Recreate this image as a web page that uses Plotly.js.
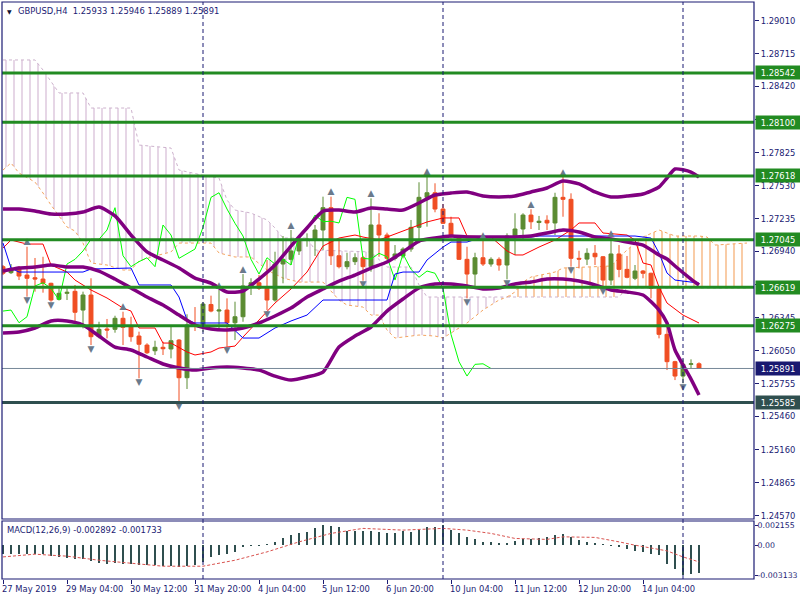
<!DOCTYPE html>
<html><head><meta charset="utf-8">
<script src="https://cdn.plot.ly/plotly-3.0.1.min.js"></script>
<style>html,body{margin:0;padding:0;background:#fff;}#chart{width:800px;height:600px;}</style>
</head><body><div id="chart"></div>
<script>
// ---- price data (H4 bars, 27 May 2019 20:00 -> 17 Jun 2019 08:00) ----
const openP = [1.26804,1.26750,1.26798,1.26729,1.26705,1.26693,1.26655,1.26511,1.26565,1.26583,
1.26415,1.26550,1.26176,1.26245,1.26242,1.26341,1.26266,1.26182,1.26101,1.26050,
1.26081,1.26066,1.26146,1.25808,1.26281,1.26272,1.26465,1.26406,1.26415,1.26301,
1.26355,1.26631,1.26660,1.26610,1.26505,1.26828,1.26870,1.26945,1.27040,1.27050,
1.27133,1.27333,1.26902,1.26804,1.26849,1.26884,1.26804,1.27178,1.27088,1.26879,
1.26900,1.26962,1.27157,1.27426,1.27467,1.27321,1.27193,1.27079,1.26870,1.26738,
1.26884,1.26828,1.26870,1.26819,1.27079,1.27142,1.27267,1.27200,1.27220,1.27196,
1.27426,1.27408,1.26879,1.26872,1.26924,1.26893,1.26684,1.26918,1.26780,1.26700,
1.26765,1.26745,1.26610,1.26197,1.25952,1.25823,1.25928,1.25933];
const highP = [1.26819,1.26828,1.26810,1.26983,1.26882,1.26893,1.26660,1.26610,1.26610,1.26640,
1.26580,1.26700,1.26310,1.26335,1.26364,1.26400,1.26355,1.26221,1.26117,1.26140,
1.26131,1.26266,1.26155,1.26377,1.26442,1.26487,1.26544,1.26595,1.26520,1.26490,
1.26738,1.26700,1.26729,1.26864,1.26938,1.27079,1.27133,1.27079,1.27103,1.27178,
1.27432,1.27432,1.27043,1.26929,1.26924,1.26900,1.27417,1.27283,1.27109,1.26998,
1.26978,1.27223,1.27561,1.27611,1.27552,1.27366,1.27252,1.27088,1.26983,1.26929,
1.27043,1.26888,1.26888,1.27103,1.27283,1.27283,1.27319,1.27259,1.27265,1.27467,
1.27610,1.27462,1.26947,1.26969,1.26998,1.26900,1.27058,1.26998,1.26900,1.26819,
1.26774,1.26750,1.26631,1.26266,1.25960,1.25973,1.25973,1.25946];
const lowP = [1.26729,1.26738,1.26684,1.26535,1.26580,1.26571,1.26490,1.26501,1.26505,1.26310,
1.26251,1.26101,1.26161,1.26161,1.26212,1.26101,1.26131,1.25803,1.26021,1.26012,
1.26012,1.25982,1.25585,1.25707,1.26227,1.26218,1.26395,1.26236,1.26086,1.26146,
1.26310,1.26550,1.26595,1.26415,1.26490,1.26655,1.26819,1.26909,1.26983,1.26900,
1.26954,1.26819,1.26789,1.26780,1.26819,1.26678,1.26759,1.26893,1.26864,1.26860,
1.26879,1.26938,1.27014,1.27163,1.27292,1.27187,1.27058,1.26864,1.26520,1.26631,
1.26810,1.26804,1.26768,1.26691,1.26909,1.27037,1.27142,1.27133,1.27133,1.27088,
1.27252,1.26804,1.26789,1.26819,1.26819,1.26619,1.26640,1.26709,1.26700,1.26684,
1.26700,1.26520,1.26161,1.25877,1.25787,1.25758,1.25892,1.25889];
const closeP = [1.26745,1.26789,1.26720,1.26700,1.26693,1.26655,1.26505,1.26565,1.26574,1.26395,
1.26550,1.26176,1.26242,1.26236,1.26341,1.26260,1.26176,1.26108,1.26032,1.26081,
1.26068,1.26140,1.25808,1.26281,1.26272,1.26469,1.26406,1.26415,1.26301,1.26355,
1.26631,1.26660,1.26610,1.26505,1.26828,1.26870,1.26945,1.27050,1.27050,1.27133,
1.27333,1.26902,1.26804,1.26849,1.26884,1.26804,1.27178,1.27088,1.26879,1.26918,
1.26962,1.27157,1.27426,1.27467,1.27321,1.27193,1.27079,1.26870,1.26738,1.26884,
1.26828,1.26870,1.26819,1.27079,1.27142,1.27267,1.27207,1.27212,1.27196,1.27426,
1.27408,1.26879,1.26872,1.26924,1.26893,1.26684,1.26918,1.26780,1.26709,1.26765,
1.26745,1.26610,1.26197,1.25952,1.25823,1.25928,1.25933,1.25891];

// ---- x axis labels ----
const tickBars = [0,8,16,24,32,40,48,56,64,72,80];
const tickLabels = ["27 May 2019","29 May 04:00","30 May 12:00","31 May 20:00","4 Jun 04:00","5 Jun 12:00",
  "6 Jun 20:00","10 Jun 04:00","11 Jun 12:00","12 Jun 20:00","14 Jun 04:00"];
const separatorBars = [25,55,85];

// ---- price axis (ticks hidden behind level labels carry empty text) ----
const priceTicks = [1.29010,1.28715,1.28420,1.28125,1.27825,1.27530,1.27235,1.26940,1.26645,1.26345,
  1.26050,1.25755,1.25460,1.25160,1.24865,1.24570];
const priceTickText = ["1.29010","1.28715","1.28420","","1.27825","1.27530","1.27235","1.26940","","1.26345",
  "1.26050","1.25755","1.25460","1.25160","1.24865","1.24570"];
const resistanceLevels = [1.28542,1.28100,1.27618,1.27045,1.26619,1.26275];
const supportLevel = 1.25585;
const lastPrice = 1.25891;

// ---- Bollinger bands ----
const bbIdx = [0,2,4,6,8,10,12,14,16,18,20,22,24,26,28,30,32,34,36,38,40,42,44,46,48,50,52,54,56,58,60,62,64,66,68,70,72,74,76,78,80,82,83,84,86,87];
const bbUpper = [1.27321,1.27321,1.27303,1.27276,1.27276,1.27294,1.27339,1.27259,1.27088,1.26936,1.26864,1.26792,1.26702,1.26657,1.26577,1.26586,1.26693,1.26819,1.26989,1.27151,1.27303,1.27312,1.27294,1.27330,1.27321,1.27312,1.27375,1.27447,1.27465,1.27474,1.27438,1.27429,1.27438,1.27474,1.27510,1.27572,1.27546,1.27474,1.27429,1.27438,1.27456,1.27519,1.27599,1.27680,1.27653,1.27608];
const bbMiddle = [1.26765,1.26792,1.26801,1.26819,1.26801,1.26801,1.26765,1.26693,1.26613,1.26532,1.26460,1.26370,1.26281,1.26245,1.26236,1.26254,1.26299,1.26362,1.26433,1.26532,1.26604,1.26675,1.26729,1.26792,1.26846,1.26936,1.27034,1.27061,1.27079,1.27070,1.27070,1.27070,1.27070,1.27079,1.27106,1.27133,1.27115,1.27070,1.27052,1.27025,1.26998,1.26909,1.26873,1.26810,1.26693,1.26640];
const bbLower = [1.26209,1.26218,1.26254,1.26317,1.26317,1.26281,1.26182,1.26083,1.26057,1.25994,1.25931,1.25895,1.25877,1.25895,1.25904,1.25895,1.25877,1.25823,1.25787,1.25814,1.25859,1.26083,1.26182,1.26263,1.26406,1.26514,1.26613,1.26649,1.26649,1.26631,1.26604,1.26613,1.26649,1.26666,1.26693,1.26693,1.26675,1.26640,1.26595,1.26577,1.26550,1.26415,1.26299,1.26057,1.25796,1.25653];

// ---- Ichimoku ----
const tenkanIdx = [0,1,3,5,6,8,9,11,13,15,16,17,19,20,21,23,24,26,27,29,30,31,32,34,36,38,40,42,44,45,47,49,51,53,55,57,58,61,63,64,65,67,69,71,72,74,75,78,79,80,81,82,83,85,87];
const tenkan = [1.26971,1.27043,1.27007,1.27007,1.26819,1.26756,1.26684,1.26595,1.26523,1.26433,1.26406,1.26254,1.26254,1.26119,1.26119,1.26039,1.26012,1.26039,1.26074,1.26092,1.26173,1.26254,1.26326,1.26478,1.26604,1.26756,1.26989,1.27061,1.27088,1.27070,1.27043,1.27097,1.27151,1.27205,1.27241,1.27241,1.27079,1.27070,1.26945,1.26909,1.26909,1.26980,1.27043,1.27133,1.27196,1.27196,1.27106,1.27088,1.27043,1.26837,1.26819,1.26622,1.26478,1.26370,1.26299];
const kijunIdx = [0,1,2,10,11,16,17,21,22,23,24,28,30,32,34,36,38,40,48,49,50,52,53,55,56,58,60,66,67,79,81,82,83,84,87];
const kijun = [1.27016,1.26792,1.26756,1.26756,1.26783,1.26792,1.26640,1.26640,1.26532,1.26326,1.26299,1.26299,1.26164,1.26164,1.26254,1.26317,1.26370,1.26505,1.26505,1.26738,1.26756,1.26756,1.26864,1.26980,1.27025,1.27025,1.27070,1.27070,1.27079,1.27079,1.27061,1.26927,1.26747,1.26684,1.26657];
const chikouShift = 26;
const spanAIdx = [0,1,2,4,5,6,8,9,10,11,13,15,16,17,19,21,22,26,27,29,31,33,35,37,40,42,43,45,46,47,48,49,52,54,55,56,58,60,62,63,64,65,66,69,70,73,76,78,80,82,84,87,88,89,93];
const spanA = [1.27671,1.27734,1.27644,1.27563,1.27465,1.27357,1.27160,1.27124,1.27016,1.26837,1.26819,1.26774,1.26774,1.26855,1.26900,1.26936,1.27016,1.27016,1.26927,1.26891,1.26891,1.26774,1.26702,1.26666,1.26666,1.26505,1.26460,1.26442,1.26370,1.26370,1.26236,1.26164,1.26191,1.26182,1.26164,1.26209,1.26299,1.26415,1.26505,1.26532,1.26577,1.26666,1.26711,1.26756,1.26792,1.26801,1.26810,1.26954,1.27070,1.27133,1.27079,1.27079,1.27070,1.26998,1.27016];
const spanBIdx = [0,4,5,6,7,10,11,16,17,21,22,26,27,28,29,31,33,34,35,38,39,46,47,48,51,52,53,63,77,78,93];
const spanB = [1.28658,1.28658,1.28568,1.28469,1.28362,1.28362,1.28227,1.28227,1.27895,1.27868,1.27671,1.27608,1.27599,1.27402,1.27312,1.27285,1.27223,1.27151,1.27061,1.27061,1.26954,1.26936,1.26864,1.26801,1.26801,1.26640,1.26532,1.26532,1.26532,1.26613,1.26613];
const cloudCross = 63;

// ---- fractals ----
const fractalUpBars = [3,15,27,30,36,41,46,53,60,66,70,76];
const fractalDownBars = [3,6,11,17,22,28,33,45,58,63,71,75,85];

// ---- MACD(12,26,9) ----
const macdHist = [-0.00085,-0.00085,-0.00092,-0.00092,-0.00092,-0.00095,-0.00113,-0.00121,-0.00131,-0.00145,
-0.00148,-0.00163,-0.00180,-0.00198,-0.00184,-0.00191,-0.00198,-0.00201,-0.00209,-0.00209,
-0.00216,-0.00219,-0.00227,-0.00219,-0.00209,-0.00174,-0.00121,-0.00103,-0.00085,-0.00068,
-0.00021,-0.00004,-0.00004,0.00011,0.00038,0.00074,0.00109,0.00127,0.00144,0.00180,
0.002155,0.00205,0.00191,0.00155,0.00155,0.00155,0.00155,0.00144,0.00134,0.00127,
0.00155,0.00144,0.00162,0.00191,0.00197,0.00215,0.00162,0.00127,0.00091,0.00064,
0.00038,0.00038,0.00021,0.00028,0.00049,0.00064,0.00064,0.00074,0.00085,0.00109,
0.00120,0.00091,0.00056,0.00038,0.00021,0.00011,-0.00004,-0.00021,-0.00042,-0.00057,
-0.00068,-0.00085,-0.00103,-0.00191,-0.00244,-0.003133,-0.00300,-0.002892];
const signalIdx = [0,4,6,8,12,16,20,25,29,33,37,41,45,50,55,58,61,64,68,70,74,77,79,83,85,87];
const signal = [-0.00121,-0.00092,-0.00103,-0.00113,-0.00156,-0.00184,-0.00219,-0.00219,-0.00156,-0.00068,0.00038,0.00127,0.00180,0.00162,0.00180,0.00162,0.00127,0.00074,0.00064,0.00091,0.00085,0.00038,0.00003,-0.00057,-0.00121,-0.001733];
const macdTicks = [0.002155, 0, -0.003133];
const macdTickText = ["0.002155","0.00","-0.003133"];

// ================= drawing =================
const navy = '#1b1b73';
const FONT = 'DejaVu Sans';
const bars = openP.map((_, i) => i);
function seg(idx, vals, pred){
  const x=[], y=[];
  idx.forEach((b,k)=>{ if(pred(b)){ x.push(b); y.push(vals[k]); } });
  return {x, y};
}
const a1 = seg(spanAIdx, spanA, b => b <= cloudCross);
const b1 = seg(spanBIdx, spanB, b => b <= cloudCross);
const a2 = seg(spanAIdx, spanA, b => b >= cloudCross);
const b2 = seg(spanBIdx, spanB, b => b >= cloudCross);
const pat = c => ({shape:'|', size:8, solidity:0.14, fgcolor:c, bgcolor:'rgba(0,0,0,0)', fgopacity:1});
const lineCfg = (c,w,d) => ({color:c, width:w, dash:d||'solid'});

const traces = [
  {type:'scatter', mode:'lines', x:a1.x, y:a1.y, xaxis:'x', yaxis:'y', line:lineCfg('#F4A460',1,'3px,3px'), hoverinfo:'skip'},
  {type:'scatter', mode:'lines', x:b1.x, y:b1.y, xaxis:'x', yaxis:'y', line:lineCfg('#CDB2CD',1,'3px,3px'),
   fill:'tonexty', fillcolor:'rgba(0,0,0,0)', fillpattern:pat('#D2B6D2'), hoverinfo:'skip'},
  {type:'scatter', mode:'lines', x:b2.x, y:b2.y, xaxis:'x', yaxis:'y', line:lineCfg('#CDB2CD',1,'3px,3px'), hoverinfo:'skip'},
  {type:'scatter', mode:'lines', x:a2.x, y:a2.y, xaxis:'x', yaxis:'y', line:lineCfg('#F4A460',1,'3px,3px'),
   fill:'tonexty', fillcolor:'rgba(0,0,0,0)', fillpattern:pat('#F4A460'), hoverinfo:'skip'},
  {type:'candlestick', x:bars, open:openP, high:highP, low:lowP, close:closeP, xaxis:'x', yaxis:'y3',
   increasing:{line:{color:'#5b8c32', width:1}, fillcolor:'#5b8c32'},
   decreasing:{line:{color:'#f04e23', width:1}, fillcolor:'#f04e23'},
   whiskerwidth:0, hoverinfo:'skip'},
  {type:'scatter', mode:'lines', x:bars.slice(0, bars.length - chikouShift), y:closeP.slice(chikouShift),
   xaxis:'x', yaxis:'y3', line:lineCfg('#00FF00',1), hoverinfo:'skip'},
  {type:'scatter', mode:'lines', x:tenkanIdx, y:tenkan, xaxis:'x', yaxis:'y3', line:lineCfg('#FF0000',1), hoverinfo:'skip'},
  {type:'scatter', mode:'lines', x:kijunIdx, y:kijun, xaxis:'x', yaxis:'y3', line:lineCfg('#0000FF',1), hoverinfo:'skip'},
  {type:'scatter', mode:'lines', x:bbIdx, y:bbUpper, xaxis:'x', yaxis:'y3', line:{color:'#800080', width:3.5, shape:'spline', smoothing:0.6}, hoverinfo:'skip'},
  {type:'scatter', mode:'lines', x:bbIdx, y:bbMiddle, xaxis:'x', yaxis:'y3', line:{color:'#800080', width:3.5, shape:'spline', smoothing:0.6}, hoverinfo:'skip'},
  {type:'scatter', mode:'lines', x:bbIdx, y:bbLower, xaxis:'x', yaxis:'y3', line:{color:'#800080', width:3.5, shape:'spline', smoothing:0.6}, hoverinfo:'skip'},
  {type:'scatter', mode:'text', x:fractalUpBars, y:fractalUpBars.map(i => highP[i]), text:fractalUpBars.map(()=>'▲'),
   textposition:'top center', textfont:{family:FONT, size:9, color:'#6a7a8c'}, xaxis:'x', yaxis:'y3', cliponaxis:false, hoverinfo:'skip'},
  {type:'scatter', mode:'text', x:fractalDownBars, y:fractalDownBars.map(i => lowP[i]), text:fractalDownBars.map(()=>'▼'),
   textposition:'bottom center', textfont:{family:FONT, size:9, color:'#6a7a8c'}, xaxis:'x', yaxis:'y3', cliponaxis:false, hoverinfo:'skip'},
  {type:'bar', x:bars, y:macdHist, xaxis:'x', yaxis:'y2', width:0.2, marker:{color:'#2F4F4F', line:{width:0}}, hoverinfo:'skip'},
  {type:'scatter', mode:'lines', x:signalIdx, y:signal, xaxis:'x', yaxis:'y2', line:{color:'#d9534f', width:1, dash:'3px,2px'}, hoverinfo:'skip'}
];

const mainDomain = [0.104, 1];
const macdDomain = [0, 0.1005];
const priceRange = [1.24541, 1.29178];

const shapes = [];
resistanceLevels.forEach(v => shapes.push({type:'line', xref:'paper', x0:0, x1:1, yref:'y', y0:v, y1:v, line:{color:'#228B22', width:3}}));
shapes.push({type:'line', xref:'paper', x0:0, x1:1, yref:'y', y0:lastPrice, y1:lastPrice, line:{color:'#778899', width:1}});
shapes.push({type:'line', xref:'paper', x0:0, x1:1, yref:'y', y0:supportLevel, y1:supportLevel, line:{color:'#2F4F4F', width:3}});
separatorBars.forEach(b => shapes.push({type:'line', xref:'x', x0:b, x1:b, yref:'paper', y0:0, y1:1, line:{color:navy, width:1, dash:'4px,3px'}}));
shapes.push({type:'rect', xref:'paper', yref:'paper', x0:0, x1:1, y0:mainDomain[0], y1:1, line:{color:navy, width:1.2}, fillcolor:'rgba(0,0,0,0)'});
shapes.push({type:'rect', xref:'paper', yref:'paper', x0:0, x1:1, y0:0, y1:macdDomain[1], line:{color:navy, width:1.2}, fillcolor:'rgba(0,0,0,0)'});

const annotations = [];
const boxLabel = (v, bg) => ({x:1, xref:'paper', xanchor:'left', xshift:1, y:v, yref:'y', yanchor:'middle', showarrow:false,
  text:v.toFixed(5), bgcolor:bg, width:42, height:11, borderpad:1, font:{family:FONT, size:8.4, color:'#ffffff'}});
resistanceLevels.forEach(v => annotations.push(boxLabel(v, '#228B22')));
annotations.push(boxLabel(lastPrice, '#191970'));
annotations.push(boxLabel(supportLevel, '#2F4F4F'));
tickBars.forEach((b, k) => annotations.push({x:b, xref:'x', xanchor:'left', xshift:-2, y:0, yref:'paper', yanchor:'top', yshift:-4,
  showarrow:false, text:tickLabels[k], borderpad:0, font:{family:FONT, size:8.4, color:navy}}));
annotations.push({x:0, xref:'paper', xanchor:'left', xshift:4, y:1, yref:'paper', yanchor:'top', yshift:-5, showarrow:false,
  text:'▼', borderpad:0, font:{family:FONT, size:6, color:'#111133'}});
annotations.push({x:0, xref:'paper', xanchor:'left', xshift:15, y:1, yref:'paper', yanchor:'top', yshift:-3, showarrow:false,
  text:'GBPUSD,H4\u00a0\u00a01.25933 1.25946 1.25889 1.25891', borderpad:0, font:{family:FONT, size:8.4, color:navy}});
annotations.push({x:0, xref:'paper', xanchor:'left', xshift:4, y:macdDomain[1], yref:'paper', yanchor:'top', yshift:-3, showarrow:false,
  text:'MACD(12,26,9) -0.002892 -0.001733', borderpad:0, font:{family:FONT, size:8.4, color:navy}});

const tickFont = {family:FONT, size:8.4, color:navy};
const layout = {
  width:800, height:600,
  margin:{l:2, r:46, t:2, b:21},
  paper_bgcolor:'#ffffff', plot_bgcolor:'#ffffff',
  showlegend:false, boxgap:0.3, bargap:0,
  xaxis:{range:[-0.125, 93.875], anchor:'y2', showgrid:false, zeroline:false, showline:false,
    tickvals:tickBars, ticktext:tickBars.map(()=>''), ticks:'outside', ticklen:4, tickcolor:navy,
    showticklabels:false, rangeslider:{visible:false}, fixedrange:true},
  yaxis:{domain:mainDomain, range:priceRange, side:'right', anchor:'x', showgrid:false, zeroline:false, showline:false,
    tickvals:priceTicks, ticktext:priceTickText, ticks:'outside', ticklen:4, tickcolor:navy,
    tickfont:tickFont, fixedrange:true},
  yaxis3:{overlaying:'y', anchor:'x', range:priceRange, visible:false, fixedrange:true},
  yaxis2:{domain:macdDomain, range:[-0.00354, 0.00258], side:'right', anchor:'x', showgrid:false, zeroline:false, showline:false,
    tickvals:macdTicks, ticktext:macdTickText, ticks:'outside', ticklen:3, tickcolor:navy, ticklabelstandoff:-2,
    tickfont:{family:FONT, size:7.8, color:navy}, fixedrange:true},
  shapes, annotations
};
Plotly.newPlot('chart', traces, layout, {staticPlot:true, displayModeBar:false});
</script></body></html>
